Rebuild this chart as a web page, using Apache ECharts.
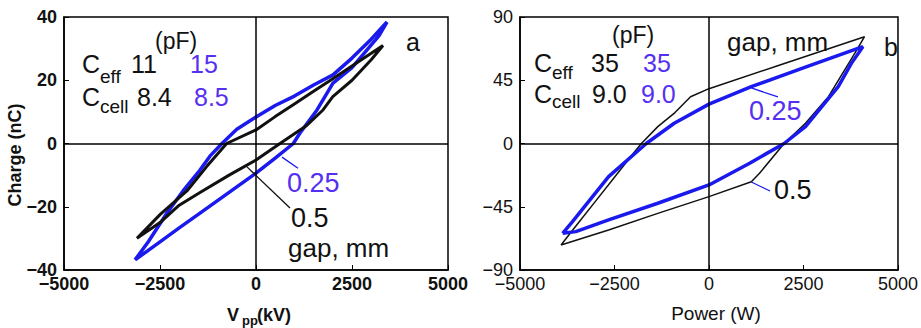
<!DOCTYPE html>
<html>
<head>
<meta charset="utf-8">
<script src="https://cdn.jsdelivr.net/npm/echarts@6/dist/echarts.min.js"></script>
<style>
html,body{margin:0;padding:0;background:#fff;}
#c{width:921px;height:328px;}
</style>
</head>
<body>
<div id="c"></div>
<script>
// ---- data ----
// Panel a: charge (nC) vs Vpp
var leftBlueV = [-3150,-2800,-2318,-1900,-1458,-1200,-886,-500,0,500,1000,1500,2005,2500,3000,3411,
                 3200,2891,2500,2005,1589,1146,972,500,0,-500,-1458,-2000,-2500,-3150];
var leftBlueQ = [-36.8,-31,-22,-15,-8.4,-4,0,4.5,8.4,12,15,18.5,21.7,27,33,38.4,
                 34,29.6,24,19.1,10.6,3.3,0,-4.6,-9.4,-13.7,-22,-26.7,-31.1,-36.8];
var leftBlackV = [-3100,-2500,-1800,-1285,-764,0,500,1000,1500,2000,2500,3000,3307,
                  3000,2500,2000,1745,1300,625,0,-700,-1458,-2000,-2500,-3100];
var leftBlackQ = [-30,-22.5,-15,-7.3,0,4.3,8.5,12.5,16.5,20.5,24.5,28.5,31,
                  26.5,20,14.8,10.6,5.5,0,-5.2,-10,-15.5,-19.5,-25,-30];
// Panel b: charge vs power
var rightBlueP = [-3872,-3611,-2656,-1659,-920,0,1120,2552,4071,
                  3767,3419,2986,2552,1988,1076,0,-1354,-2656,-3524,-3872];
var rightBlueQ = [-63.9,-55.6,-23.6,0,14.4,28,40.4,54.4,68.9,
                  57,40.4,26.2,12,0,-14,-29.5,-42.5,-54.4,-62.7,-63.9];
var rightBlackP = [-3915,-3500,-3000,-2500,-2000,-1788,-1354,-900,-487,0,1857,4115,
                   3900,3160,2552,1988,1337,1120,0,-1354,-2656,-3915];
var rightBlackQ = [-72.2,-58,-41,-24,-7,0,12,22,33.3,39,55.7,76,
                   66,33.3,14.4,0,-21.2,-27.2,-37.8,-49.7,-61.5,-72.2];
// tick settings
var leftXTicks = {min:-5000,max:5000,interval:2500};
var leftYTicks = {min:-40,max:40,interval:20};
var rightXTicks = {min:-5000,max:5000,interval:2500};
var rightYTicks = {min:-90,max:90,interval:45};
// leader lines (data coordinates)
var leaderLeftBlue = [[677,-4.3],[1094,-7.8]];
var leaderLeftBlack = [[-234,-7.4],[885,-20.4]];
var leaderRightBlue1 = [[1120,39.5],[1823,33.1]];
var leaderRightBlue2 = [[1120,-27.4],[1615,-33.8]];

function zip(a,b){return a.map(function(v,i){return [v,b[i]];});}
var FF = 'Liberation Sans, Arial, sans-serif';
var BLUE = '#1a1aee', TBLUE = '#5530f0', BLK = '#111';
function minus(v){return v<0 ? '\u2212'+Math.abs(v) : String(v);}

function xAx(g, t, bold){
  return {type:'value', gridIndex:g, min:t.min, max:t.max, interval:t.interval,
    axisLine:{show:true,onZero:false,lineStyle:{color:'#000',width:1.5}},
    axisTick:{show:true,inside:true,length:5,lineStyle:{color:'#000'}},
    splitLine:{show:false},
    axisLabel:{formatter:minus,color:'#111',fontSize:18,fontFamily:FF,fontWeight:bold?'bold':'normal',margin:5}};
}
function yAx(g, t, bold){
  return {type:'value', gridIndex:g, min:t.min, max:t.max, interval:t.interval,
    axisLine:{show:true,onZero:false,lineStyle:{color:'#000',width:1.5}},
    axisTick:{show:true,inside:true,length:5,lineStyle:{color:'#000'}},
    splitLine:{show:false},
    axisLabel:{formatter:minus,color:'#111',fontSize:18,fontFamily:FF,fontWeight:bold?'bold':'normal',margin:7}};
}
function zeroLines(){
  return {silent:true,symbol:['none','none'],label:{show:false},
    lineStyle:{color:'#000',width:1.5,type:'solid'},
    data:[{xAxis:0},{yAxis:0}]};
}
function loop(g, xs, ys, color, w, z, ml){
  var s = {type:'line',xAxisIndex:g,yAxisIndex:g,data:zip(xs,ys),showSymbol:false,symbol:'none',
    lineStyle:{color:color,width:w},z:z,silent:true};
  if (ml) s.markLine = zeroLines();
  return s;
}
function leader(g, pts, color){
  return {type:'line',xAxisIndex:g,yAxisIndex:g,data:pts,showSymbol:false,symbol:'none',
    lineStyle:{color:color,width:1.3},z:5,silent:true};
}
function txt(x,y,text,size,color,opt){
  opt = opt||{};
  return {type:'text',x:x,y:y,rotation:opt.rot||0,silent:true,z:100,
    style:{text:text,fontSize:size,fontFamily:FF,fontWeight:opt.w||'normal',fill:color,
      align:opt.align||'left',verticalAlign:'middle'}};
}

var chart = echarts.init(document.getElementById('c'), null, {renderer:'svg'});
chart.setOption({
  animation:false,
  backgroundColor:'#fff',
  grid:[
    {left:64,top:17,width:384,height:253,show:true,borderColor:'#000',borderWidth:1.5,backgroundColor:'transparent'},
    {left:520,top:17,width:384,height:253,show:true,borderColor:'#000',borderWidth:1.5,backgroundColor:'transparent'}
  ],
  xAxis:[xAx(0,leftXTicks,true), xAx(1,rightXTicks,false)],
  yAxis:[yAx(0,leftYTicks,true), yAx(1,rightYTicks,false)],
  series:[
    loop(0, leftBlueV, leftBlueQ, BLUE, 3.5, 2, false),
    loop(0, leftBlackV, leftBlackQ, BLK, 3, 3, true),
    leader(0, leaderLeftBlue, BLUE),
    leader(0, leaderLeftBlack, BLK),
    loop(1, rightBlackP, rightBlackQ, BLK, 1.5, 3, true),
    loop(1, rightBlueP, rightBlueQ, BLUE, 3.5, 4, false),
    leader(1, leaderRightBlue1, BLUE),
    leader(1, leaderRightBlue2, BLUE)
  ],
  graphic:[
    txt(155,41,'(pF)',23,BLK),
    txt(82,64,'C',25,BLK), txt(100,76,'eff',19,BLK),
    txt(131,64,'11',25,BLK), txt(190,64,'15',25,TBLUE),
    txt(82,96.5,'C',25,BLK), txt(100,106,'cell',19,BLK),
    txt(137,96.5,'8.4',25,BLK), txt(194,96.5,'8.5',25,TBLUE),
    txt(406,42,'a',25,BLK),
    txt(287,182.5,'0.25',27,TBLUE),
    txt(291,218,'0.5',27,BLK),
    txt(288,247.5,'gap, mm',26,BLK),
    txt(15,155,'Charge (nC)',18,BLK,{rot:Math.PI/2,align:'center',w:'bold'}),
    txt(227,314.5,'V',18,BLK,{w:'bold'}),
    txt(242,320,'pp',13,BLK,{w:'bold'}),
    txt(257,314.5,'(kV)',18,BLK,{w:'bold'}),
    txt(612,35,'(pF)',23,BLK),
    txt(534,62.5,'C',25,BLK), txt(552,72,'eff',19,BLK),
    txt(591,62.5,'35',25,BLK), txt(643,62.5,'35',25,TBLUE),
    txt(534,93.5,'C',25,BLK), txt(552,101,'cell',19,BLK),
    txt(592,93.5,'9.0',25,BLK), txt(641,93.5,'9.0',25,TBLUE),
    txt(727,42,'gap, mm',26,BLK),
    txt(884,47,'b',25,BLK),
    txt(749,111,'0.25',27,TBLUE),
    txt(774,190,'0.5',27,BLK),
    txt(716,313,'Power (W)',19,BLK,{align:'center'})
  ]
});
</script>
</body>
</html>
